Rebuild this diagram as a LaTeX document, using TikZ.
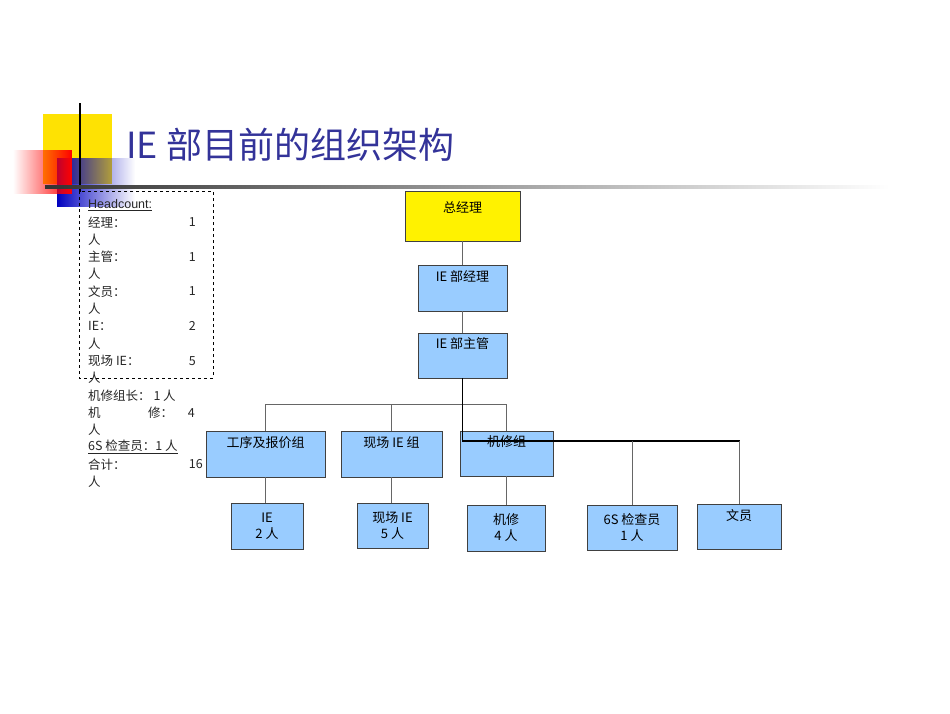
\documentclass[tikz,border=0pt]{standalone}
\usepackage{fontspec}
\setmainfont{Liberation Sans}
\newfontfamily\cjk{Noto Sans CJK SC}
\usetikzlibrary{fadings}
\definecolor{boxblue}{HTML}{99CCFF}
\definecolor{titleblue}{HTML}{333399}
\begin{document}
\begin{tikzpicture}[x=1pt,y=-1pt,
  box/.style={draw=black!75,fill=boxblue,line width=0.8pt,font=\cjk\fontsize{13}{16}\selectfont,align=center,inner sep=1pt},
  conn/.style={draw=black!60,line width=0.7pt},
  thick conn/.style={draw=black,line width=1.5pt},
  hc/.style={anchor=west,text=black!85,font=\cjk\fontsize{12.5}{14}\selectfont,inner sep=0pt}]
\useasboundingbox (0,0) rectangle (950,713);
% decoration
\fill[yellow!85!orange] (43,114) rectangle (112,184);
\fill[blue!75!black,path fading=east] (57,158) rectangle (135,207);
\fill[red,path fading=west] (13,150) rectangle (72,194);
\draw[line width=2pt] (80,103) -- (80,192);
\shade[left color=black!80,right color=white] (45,185.5) rectangle (890,188.5);
\node[anchor=west,text=titleblue,font=\cjk\fontsize{36}{40}\selectfont,inner sep=0pt] (title) at (126,145) {IE 部目前的组织架构};
% headcount
\draw[dashed,line width=0.6pt] (79,191) rectangle (213,378);
\node[hc,font=\fontsize{12.5}{14}\selectfont] (h0) at (88,205) {\underline{Headcount:}};
\foreach \t/\n/\k in {经理：/1/1,主管：/1/3,文员：/1/5,IE：/2/7,现场 IE：/5/9}{
  \node[hc] at (88,{205+17.3*\k}) {\t};
  \node[hc,anchor=east] at (196,{205+17.3*\k}) {\n};
  \node[hc] at (88,{205+17.3*(\k+1)}) {人};
}
\node[hc] at (88,{205+17.3*11}) {机修组长：\ 1 人};
\node[hc] at (88,{205+17.3*12}) {机};
\node[hc] at (148,{205+17.3*12}) {修：};
\node[hc,anchor=east] at (195,{205+17.3*12}) {4};
\node[hc] at (88,{205+17.3*13}) {人};
\node[hc] at (88,{205+17.3*14}) {\underline{6S 检查员：1 人}};
\node[hc] at (88,{205+17.3*15}) {合计：};
\node[hc,anchor=east] at (203,{205+17.3*15}) {16};
\node[hc] at (88,{205+17.3*16}) {人};
% boxes
\node[box,fill=yellow,minimum width=115pt,minimum height=50pt] (gm) at (462.5,216) {};
\node[font=\cjk\fontsize{13}{16}\selectfont] at (462.5,207) {总经理};
\node[box,minimum width=89pt,minimum height=46pt] (mgr) at (462.5,288) {IE 部经理\\[8pt]};
\node[box,minimum width=89pt,minimum height=45pt] (sup) at (462.5,355.5) {IE 部主管\\[8pt]};
\node[box,minimum width=119pt,minimum height=46pt] (g1) at (265.5,454) {工序及报价组\\[8pt]};
\node[box,minimum width=101pt,minimum height=46pt] (g2) at (391.5,454) {现场 IE 组\\[8pt]};
\node[box,minimum width=93pt,minimum height=45pt] (g3) at (506.5,453.5) {机修组\\[8pt]};
\node[box,minimum width=72pt,minimum height=46pt] (b1) at (267,526) {IE\\2 人};
\node[box,minimum width=71pt,minimum height=45pt] (b2) at (392.5,525.5) {现场 IE\\5 人};
\node[box,minimum width=78pt,minimum height=46pt] (b3) at (506,528) {机修\\4 人};
\node[box,minimum width=90pt,minimum height=45pt] (b4) at (632,527.5) {6S 检查员\\1 人};
\node[box,minimum width=84pt,minimum height=45pt] (b5) at (739,526.5) {文员\\[8pt]};
% connectors
\draw[conn] (gm.south) -- (mgr.north);
\draw[conn] (mgr.south) -- (sup.north);
\draw[conn] (sup.south) -- (462.5,404) -| (g1.north);
\draw[conn] (462.5,404) -| (g2.north);
\draw[conn] (462.5,404) -| (g3.north);
\draw[conn] (g1.south) -- (g1.south|-b1.north);
\draw[conn] (g2.south) -- (g2.south|-b2.north);
\draw[conn] (g3.south) -- (g3.south|-b3.north);
\draw[thick conn] (sup.south) -- (462.5,441) -- (740,441);
\draw[conn] (b4.north|-0,441) -- (b4.north);
\draw[conn] (b5.north|-0,441) -- (b5.north);
\end{tikzpicture}
\end{document}
